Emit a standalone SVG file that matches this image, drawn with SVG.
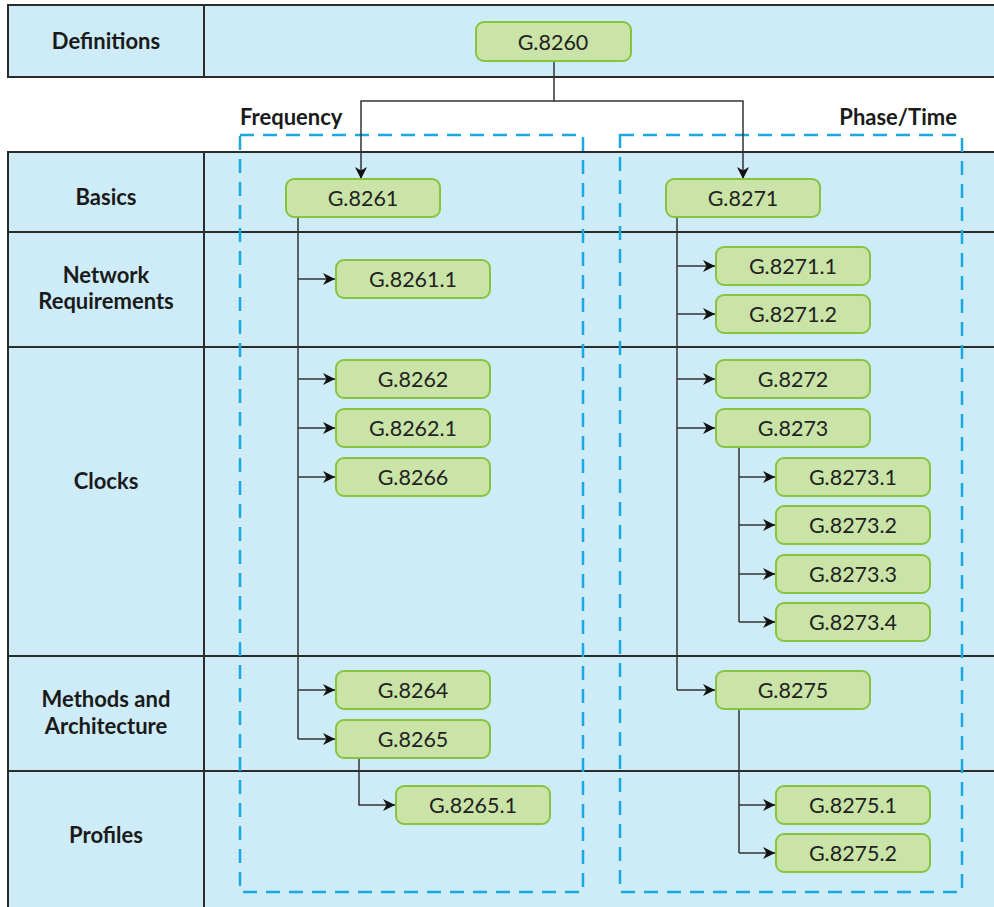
<svg xmlns="http://www.w3.org/2000/svg" width="994" height="907" viewBox="0 0 994 907">
<style>
.band{fill:#CDECF7;stroke:none}
.tl{stroke:#2b2b2b;stroke-width:2;fill:none}
.lab{font-family:Lato,"Open Sans","Liberation Sans",sans-serif;font-weight:bold;font-size:22px;fill:#1a1a1a;text-anchor:middle}
.box rect{fill:#C9E4A6;stroke:#86C440;stroke-width:2}
.box text{font-family:Lato,"Open Sans","Liberation Sans",sans-serif;font-size:21.5px;fill:#222;text-anchor:middle;dominant-baseline:central}
.dash{fill:none;stroke:#1AA8DE;stroke-width:2.5;stroke-dasharray:14 9}
.con{fill:none;stroke:#333;stroke-width:1.5}
</style>
<defs>
<marker id="ah" viewBox="0 0 12 12" refX="12" refY="6" markerWidth="12" markerHeight="12" markerUnits="userSpaceOnUse" orient="auto">
<path d="M0,0 L12,6 L0,12 L3.5,6 Z" fill="#111"/>
</marker>
</defs>
<rect width="994" height="907" fill="#fff"/>
<g id="table">
<rect class="band" x="8" y="5" width="990" height="72"/>
<path class="tl" d="M998,5 H8 V77 H998 M204,5 V77"/>
<rect class="band" x="8" y="152" width="990" height="760"/>
<path class="tl" d="M998,152 H8 V910 M204,152 V910 M8,232 H998 M8,347 H998 M8,656 H998 M8,771 H998"/>
<text class="lab" x="106" y="49">Definitions</text>
<text class="lab" x="106" y="205">Basics</text>
<text class="lab" x="106" y="283">Network</text>
<text class="lab" x="106" y="309">Requirements</text>
<text class="lab" x="106" y="489">Clocks</text>
<text class="lab" x="106" y="707">Methods and</text>
<text class="lab" x="106" y="734">Architecture</text>
<text class="lab" x="106" y="843">Profiles</text>
</g>
<g id="groups">
<rect class="dash" x="240" y="135" width="343" height="757"/>
<rect class="dash" x="620" y="135" width="342" height="757"/>
<text class="lab" x="240" y="125" style="text-anchor:start">Frequency</text>
<text class="lab" x="957" y="125" style="text-anchor:end">Phase/Time</text>
</g>
<g id="connectors">
<path class="con" d="M554,61 V101 H361 V179" marker-end="url(#ah)"/>
<path class="con" d="M554,101 H743 V179" marker-end="url(#ah)"/>
<path class="con" d="M298,217 V739"/>
<path class="con" d="M298,279 H335" marker-end="url(#ah)"/>
<path class="con" d="M298,379 H335" marker-end="url(#ah)"/>
<path class="con" d="M298,428 H335" marker-end="url(#ah)"/>
<path class="con" d="M298,477 H335" marker-end="url(#ah)"/>
<path class="con" d="M298,690 H335" marker-end="url(#ah)"/>
<path class="con" d="M298,739 H335" marker-end="url(#ah)"/>
<path class="con" d="M359,757 V805 H395" marker-end="url(#ah)"/>
<path class="con" d="M677,217 V690"/>
<path class="con" d="M677,266 H715" marker-end="url(#ah)"/>
<path class="con" d="M677,314 H715" marker-end="url(#ah)"/>
<path class="con" d="M677,379 H715" marker-end="url(#ah)"/>
<path class="con" d="M677,428 H715" marker-end="url(#ah)"/>
<path class="con" d="M677,690 H715" marker-end="url(#ah)"/>
<path class="con" d="M739,447 V622"/>
<path class="con" d="M739,477 H775" marker-end="url(#ah)"/>
<path class="con" d="M739,525 H775" marker-end="url(#ah)"/>
<path class="con" d="M739,574 H775" marker-end="url(#ah)"/>
<path class="con" d="M739,622 H775" marker-end="url(#ah)"/>
<path class="con" d="M739,709 V853"/>
<path class="con" d="M739,805 H775" marker-end="url(#ah)"/>
<path class="con" d="M739,853 H775" marker-end="url(#ah)"/>
</g>
<g id="n8260" class="box"><rect x="476" y="22" width="155" height="39" rx="8"/><text x="553" y="42">G.8260</text></g>
<g id="n8261" class="box"><rect x="286" y="179" width="154" height="38" rx="8"/><text x="363" y="198">G.8261</text></g>
<g id="n8271" class="box"><rect x="666" y="179" width="154" height="38" rx="8"/><text x="743" y="198">G.8271</text></g>
<g id="n8261_1" class="box"><rect x="336" y="260" width="154" height="38" rx="8"/><text x="413" y="279">G.8261.1</text></g>
<g id="n8262" class="box"><rect x="336" y="360" width="154" height="38" rx="8"/><text x="413" y="379">G.8262</text></g>
<g id="n8262_1" class="box"><rect x="336" y="409" width="154" height="38" rx="8"/><text x="413" y="428">G.8262.1</text></g>
<g id="n8266" class="box"><rect x="336" y="458" width="154" height="38" rx="8"/><text x="413" y="477">G.8266</text></g>
<g id="n8264" class="box"><rect x="336" y="671" width="154" height="38" rx="8"/><text x="413" y="690">G.8264</text></g>
<g id="n8265" class="box"><rect x="336" y="720" width="154" height="38" rx="8"/><text x="413" y="739">G.8265</text></g>
<g id="n8265_1" class="box"><rect x="396" y="786" width="154" height="38" rx="8"/><text x="473" y="805">G.8265.1</text></g>
<g id="n8271_1" class="box"><rect x="716" y="247" width="154" height="38" rx="8"/><text x="793" y="266">G.8271.1</text></g>
<g id="n8271_2" class="box"><rect x="716" y="295" width="154" height="38" rx="8"/><text x="793" y="314">G.8271.2</text></g>
<g id="n8272" class="box"><rect x="716" y="360" width="154" height="38" rx="8"/><text x="793" y="379">G.8272</text></g>
<g id="n8273" class="box"><rect x="716" y="409" width="154" height="38" rx="8"/><text x="793" y="428">G.8273</text></g>
<g id="n8273_1" class="box"><rect x="776" y="458" width="154" height="38" rx="8"/><text x="853" y="477">G.8273.1</text></g>
<g id="n8273_2" class="box"><rect x="776" y="506" width="154" height="38" rx="8"/><text x="853" y="525">G.8273.2</text></g>
<g id="n8273_3" class="box"><rect x="776" y="555" width="154" height="38" rx="8"/><text x="853" y="574">G.8273.3</text></g>
<g id="n8273_4" class="box"><rect x="776" y="603" width="154" height="38" rx="8"/><text x="853" y="622">G.8273.4</text></g>
<g id="n8275" class="box"><rect x="716" y="671" width="154" height="38" rx="8"/><text x="793" y="690">G.8275</text></g>
<g id="n8275_1" class="box"><rect x="776" y="786" width="154" height="38" rx="8"/><text x="853" y="805">G.8275.1</text></g>
<g id="n8275_2" class="box"><rect x="776" y="834" width="154" height="38" rx="8"/><text x="853" y="853">G.8275.2</text></g>
</svg>
